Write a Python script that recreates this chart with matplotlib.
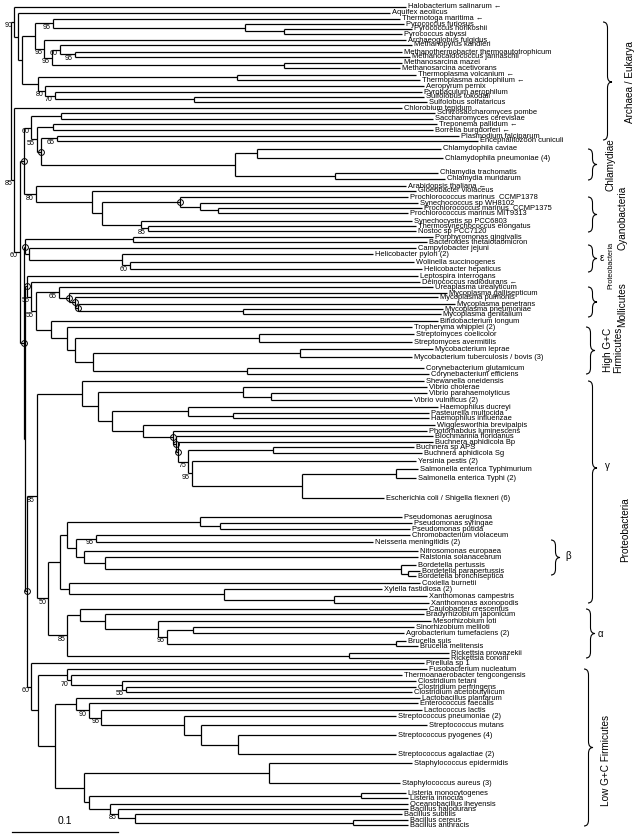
import re
import matplotlib
matplotlib.use("Agg")
import matplotlib.pyplot as plt
from matplotlib.path import Path
from matplotlib.patches import PathPatch

LEAF_NAMES = [
    "Halobacterium salinarum \u2190", "Aquifex aeolicus", "Thermotoga maritima \u2190",
    "Pyrococcus furiosus", "Pyrococcus horikoshii", "Pyrococcus abyssi",
    "Archaeoglobus fulgidus", "Methanopyrus kandleri", "Methanothermobacter thermoautotrophicum",
    "Methanocaldococcus jannaschii", "Methanosarcina mazei", "Methanosarcina acetivorans",
    "Thermoplasma volcanium \u2190", "Thermoplasma acidophilum \u2190", "Aeropyrum pernix",
    "Pyrobaculum aerophilum", "Sulfolobus tokodaii", "Sulfolobus solfataricus",
    "Chlorobium tepidum", "Schizosaccharomyces pombe", "Saccharomyces cerevisiae",
    "Treponema pallidum \u2190", "Borrelia burgdorferi \u2190", "Plasmodium falciparum",
    "Encephalitozoon cuniculi", "Chlamydophila caviae", "Chlamydophila pneumoniae (4)",
    "Chlamydia trachomatis", "Chlamydia muridarum", "Arabidopsis thaliana \u2190",
    "Gloeobacter violaceus", "Prochlorococcus marinus  CCMP1378", "Synechococcus sp WH8102",
    "Prochlorococcus marinus  CCMP1375", "Prochlorococcus marinus MIT9313", "Synechocystis sp PCC6803",
    "Thermosynechococcus elongatus", "Nostoc sp PCC7120", "Porphyromonas gingivalis",
    "Bacteroides thetaiotaomicron", "Campylobacter jejuni", "Helicobacter pylori (2)",
    "Wolinella succinogenes", "Helicobacter hepaticus", "Leptospira interrogans",
    "Deinococcus radiodurans \u2190", "Ureaplasma urealyticum", "Mycoplasma gallisepticum",
    "Mycoplasma pulmonis", "Mycoplasma penetrans", "Mycoplasma pneumoniae",
    "Mycoplasma genitalium", "Bifidobacterium longum", "Tropheryma whipplei (2)",
    "Streptomyces coelicolor", "Streptomyces avermitilis", "Mycobacterium leprae",
    "Mycobacterium tuberculosis / bovis (3)", "Corynebacterium glutamicum", "Corynebacterium efficiens",
    "Shewanella oneidensis", "Vibrio cholerae", "Vibrio parahaemolyticus",
    "Vibrio vulnificus (2)", "Haemophilus ducreyi", "Pasteurella multocida",
    "Haemophilus influenzae", "Wigglesworthia brevipalpis", "Photorhabdus luminescens",
    "Blochmannia floridanus", "Buchnera aphidicola Bp", "Buchnera sp APS",
    "Buchnera aphidicola Sg", "Yersinia pestis (2)", "Salmonella enterica Typhimurium",
    "Salmonella enterica Typhi (2)", "Escherichia coli / Shigella flexneri (6)", "Pseudomonas aeruginosa",
    "Pseudomonas syringae", "Pseudomonas putida", "Chromobacterium violaceum",
    "Neisseria meningitidis (2)", "Nitrosomonas europaea", "Ralstonia solanacearum",
    "Bordetella pertussis", "Bordetella parapertussis", "Bordetella bronchiseptica",
    "Coxiella burnetii", "Xylella fastidiosa (2)", "Xanthomonas campestris",
    "Xanthomonas axonopodis", "Caulobacter crescentus", "Bradyrhizobium japonicum",
    "Mesorhizobium loti", "Sinorhizobium meliloti", "Agrobacterium tumefaciens (2)",
    "Brucella suis", "Brucella melitensis", "Rickettsia prowazekii",
    "Rickettsia conorii", "Pirellula sp 1", "Fusobacterium nucleatum",
    "Thermoanaerobacter tengcongensis", "Clostridium tetani", "Clostridium perfringens",
    "Clostridium acetobutylicum", "Lactobacillus plantarum", "Enterococcus faecalis",
    "Lactococcus lactis", "Streptococcus pneumoniae (2)", "Streptococcus mutans",
    "Streptococcus pyogenes (4)", "Streptococcus agalactiae (2)", "Staphylococcus epidermidis",
    "Staphylococcus aureus (3)", "Listeria monocytogenes", "Listeria innocua",
    "Oceanobacillus iheyensis", "Bacillus halodurans", "Bacillus subtilis",
    "Bacillus cereus", "Bacillus anthracis",
]

# vertical row of each leaf (top = 0)
LEAF_ROWS = [7, 13, 19, 24, 29, 34, 40, 45, 52, 57, 63, 68, 75, 80, 86, 92, 97, 102, 108, 113,
             119, 124, 130, 136, 141, 149, 158, 173, 179, 186, 191, 197, 203, 208, 213, 221, 226,
             231, 237, 242, 248, 254, 262, 269, 276, 282, 287, 293, 297, 304, 309, 314, 321, 327,
             334, 342, 349, 357, 368, 374, 381, 387, 393, 400, 407, 413, 418, 425, 431, 436, 442,
             447, 453, 461, 469, 478, 498, 517, 523, 529, 535, 542, 551, 557, 565, 571, 576, 583,
             589, 596, 603, 609, 614, 621, 627, 633, 641, 646, 653, 658, 663, 669, 675, 681, 687,
             692, 698, 703, 710, 716, 725, 735, 754, 763, 783, 793, 798, 804, 809, 814, 820, 825]

# distance of each leaf from the root (0.001 substitutions / site)
LEAF_DEPTHS = [377, 362, 372, 375, 383, 374, 377, 383, 374, 381, 374, 372, 387, 391, 394, 392,
               394, 397, 374, 405, 403, 407, 403, 427, 445, 410, 412, 408, 414, 377, 387, 379,
               389, 392, 379, 383, 387, 387, 403, 397, 387, 346, 385, 392, 389, 391, 403, 416,
               408, 424, 412, 410, 408, 383, 385, 383, 403, 383, 394, 399, 394, 397, 397, 383,
               408, 399, 399, 405, 397, 403, 403, 385, 392, 387, 389, 387, 357, 374, 383, 381,
               381, 346, 389, 389, 387, 391, 387, 391, 355, 397, 399, 397, 394, 401, 385, 375,
               377, 389, 418, 418, 394, 397, 374, 387, 387, 383, 391, 389, 392, 368, 397, 368,
               368, 383, 372, 377, 379, 379, 379, 374, 379, 379]

# topology: leaves are indices; ")d/x" = internal node at depth d (0.001 subst.), x = support or o (circle)
CLADE_ARCHAEA = ("(0,(1,(((2,(3,(4,5)262)225)44/95,(6,((7,(8,9)65/95)51/60,(10,11)262)43/95)36/95)27,"
                 "((12,13)218,(14,(15,(16,17)177)46/70)37/80)30)15)11)8/90")
CLADE_EUK_CHLAM = "((19,20)52,((21,22)44,((23,24)48/65,((25,26)237,(27,28)310)216)33/o)29/55)24/60"
CLADE_CYANO = "(29,(30,((31,(32,(33,34)200)183)164/o,(35,(36,37)134/85)127)91)81)28/80"
CLADE_BACT_EPS = "((38,39)120,(40,(41,(42,43)117/60)109)22)18/o"
CLADE_MOLLICUTES = "(46,(47,(48,(49,(50,51)224)68/o)65/o)59/o)50/65"
CLADE_ACTINO = "(52,(53,((54,55)239,((56,57)277,(58,59)227)82)65)58)42"
CLADE_GAMMA_ENT = ("(60,((61,(62,63)250)224,((64,(65,66)214)172,(67,(68,(69,(70,((71,72)252,"
                   "(73,((74,75)368,76)279)175/95)172/75)162/o)160/o)158/o)129)100)87)72")
CLADE_GAMMA_BETA = ("(((77,(78,79)202)183,((80,81)85/95,(82,(83,(84,(85,86)379)373)93)74)66)58,"
                    "(87,(88,(89,90)309)206)59)51")
CLADE_ALPHA = "((91,(92,(93,((94,95)176,(96,97)368)152/95)143)93)70,(98,99)324)58/85"
CLADE_CLOSTR = "(101,(102,(103,(104,105)113/55)109)61/70)58"
CLADE_LACTO = "(106,(107,(108,(109,(110,(111,112)219)184)168)90/95)78/90)66"
CLADE_BACILLI = "((113,114)248,((115,116)335,(117,(118,(119,(120,121)327)122)106/85)98)78)74"

BL2 = "(44,(45,(" + CLADE_MOLLICUTES + "," + CLADE_ACTINO + ")28/55)24/55)20/o"
PROT = "(" + CLADE_GAMMA_ENT + ",(" + CLADE_GAMMA_BETA + "," + CLADE_ALPHA + ")40/50)29/85"
PF = "(100,(" + CLADE_CLOSTR + ",(" + CLADE_LACTO + "," + CLADE_BACILLI + ")46)30)24/60"
BACT = ("(18,((" + CLADE_EUK_CHLAM + "," + CLADE_CYANO + ")17/o,(" + CLADE_BACT_EPS + ",(" + BL2 +
        ",(" + PROT + "," + PF + ")20/o)18)17/o)13/60)8/85")
TREE = "(" + CLADE_ARCHAEA + "," + BACT + ")5"

SCALE_LENGTH = 0.1

# ---------------------------------------------------------------- parse
def parse(s, i=0):
    if s[i] == "(":
        i += 1
        kids = []
        while True:
            k, i = parse(s, i)
            kids.append(k)
            if s[i] == ",":
                i += 1
                continue
            if s[i] == ")":
                i += 1
                break
        m = re.match(r"(\d+(?:\.\d+)?)(?:/(\w+))?", s[i:])
        i += m.end()
        return {"kids": kids, "depth": float(m.group(1)) / 1000.0, "tag": m.group(2)}, i
    m = re.match(r"\d+", s[i:])
    idx = int(m.group(0))
    return {"leaf": idx, "depth": LEAF_DEPTHS[idx] / 1000.0}, i + m.end()

root, _ = parse(TREE)

def layout(n):
    if "leaf" in n:
        n["y"] = LEAF_ROWS[n["leaf"]]
    else:
        ys = [layout(k) for k in n["kids"]]
        n["y"] = (min(ys) + max(ys)) / 2.0
    return n["y"]

layout(root)

# ---------------------------------------------------------------- figure
W, H = 640, 838
fig = plt.figure(figsize=(W / 100, H / 100), dpi=100)
ax = fig.add_axes([0, 0, 1, 1])
PX0, PXU = 6.0, 1060.0   # pixel of depth 0, pixels per substitution
ax.set_xlim(-PX0 / PXU, (W - PX0) / PXU)
ax.set_ylim(H, 0)
ax.axis("off")
px = 1.0 / PXU
LW = 0.9
FONT = "Liberation Sans"

def draw(n):
    if "leaf" in n:
        ax.text(n["depth"] + 2 * px, n["y"], LEAF_NAMES[n["leaf"]], fontsize=5.4,
                family=FONT, va="center", ha="left")
        return
    ys = [k["y"] for k in n["kids"]]
    ax.plot([n["depth"], n["depth"]], [min(ys), max(ys)], color="black", lw=LW,
            solid_capstyle="butt")
    for k in n["kids"]:
        ax.plot([n["depth"], k["depth"]], [k["y"], k["y"]], color="black", lw=LW,
                solid_capstyle="butt")
        draw(k)
    tag = n.get("tag")
    if tag == "o":
        ax.plot(n["depth"], n["y"], "o", ms=4.2, mfc="none", mec="black", mew=0.7)
    elif tag:
        ax.text(n["depth"] - 2 * px, n["y"] + 4, tag, fontsize=5.1, family=FONT,
                ha="right", va="center")

draw(root)

# scale bar
sb_x0 = 12 * px - PX0 * px
ax.plot([sb_x0, sb_x0 + SCALE_LENGTH], [832, 832], color="black", lw=LW)
ax.text(sb_x0 + SCALE_LENGTH / 2, 826, "0.1", fontsize=7.5, family=FONT, ha="center", va="bottom")

# ---------------------------------------------------------------- braces / groups
ov = fig.add_axes([0, 0, 1, 1])
ov.set_xlim(0, W)
ov.set_ylim(H, 0)
ov.axis("off")
ov.patch.set_alpha(0)

def brace(x0, y0, y1, ym=None, w=9, r=6):
    if ym is None:
        ym = (y0 + y1) / 2.0
    xm = x0 + w / 2.0
    verts = [(x0, y0), (xm, y0), (xm, y0 + r), (xm, ym - r), (xm, ym), (x0 + w, ym),
             (xm, ym), (xm, ym + r), (xm, y1 - r), (xm, y1), (x0, y1)]
    codes = [Path.MOVETO, Path.CURVE3, Path.CURVE3, Path.LINETO, Path.CURVE3, Path.CURVE3,
             Path.CURVE3, Path.CURVE3, Path.LINETO, Path.CURVE3, Path.CURVE3]
    ov.add_patch(PathPatch(Path(verts, codes), fill=False, lw=0.8, ec="black"))

GROUPS = [
    # brace x, y0, y1, mid, label, label x, label y, size
    (603, 22, 140, 82, "Archaea / Eukarya", 630, 82, 7.2),
    (588, 149, 180, None, "Chlamydiae", 611, 165, 7.2),
    (588, 197, 232, None, "Cyanobacteria", 622, 218, 7.2),
    (588, 245, 272, None, "\u03b5", 602, 258, 7.0),
    (588, 287, 317, None, "Mollicutes", 622, 305, 7.2),
    (586, 327, 374, None, "High G+C\nFirmicutes", 613, 350, 7.2),
    (588, 381, 603, 468, "\u03b3", 607, 466, 7.0),
    (551, 540, 575, None, "\u03b2", 568, 556, 7.0),
    (586, 609, 658, None, "\u03b1", 600, 634, 7.0),
    (584, 669, 826, None, "Low G+C Firmicutes", 606, 760, 7.2),
]
for bx, b0, b1, bm, lab, lx, ly, fs in GROUPS:
    brace(bx, b0, b1, bm)
    rot = 0 if len(lab) == 1 else 90
    ov.text(lx, ly, lab, fontsize=fs, family=FONT, rotation=rot, ha="center", va="center",
            linespacing=1.1)

ov.text(611, 265, "Proteobacteria", fontsize=5.2, family=FONT, rotation=90, ha="center", va="center")
ov.text(625, 530, "Proteobacteria", fontsize=7.2, family=FONT, rotation=90, ha="center", va="center")

fig.savefig("out.png", dpi=100, facecolor="white")
